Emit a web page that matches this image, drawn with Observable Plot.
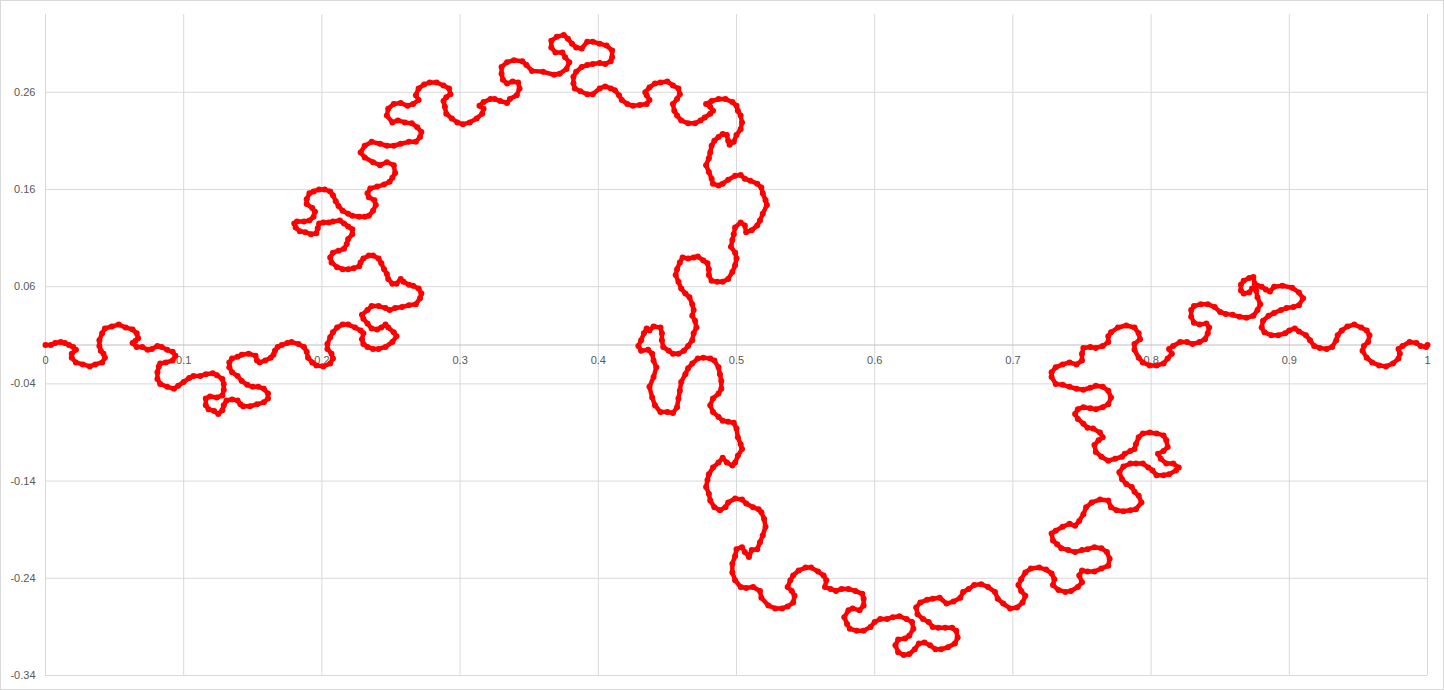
<!DOCTYPE html>
<html><head><meta charset="utf-8">
<script src="https://cdn.jsdelivr.net/npm/d3@7"></script>
<script src="https://cdn.jsdelivr.net/npm/@observablehq/plot@0.6"></script>
<style>
html,body{margin:0;padding:0;background:#fff;}
#wrap{position:relative;width:1444px;height:690px;overflow:hidden;}
#frame{position:absolute;left:0;top:0;width:1444px;height:690px;box-sizing:border-box;border:1px solid #d9d9d9;pointer-events:none;}
</style></head><body>
<div id="wrap"><div id="chart"></div><div id="frame"></div></div>
<script>
const xs = [
0,0.004,0.007,0.011,0.014,0.017,0.020,0.022,0.019,0.019,
0.022,0.027,0.032,0.036,0.041,0.043,0.042,0.040,0.039,0.039,
0.041,0.043,0.048,0.053,0.058,0.063,0.066,0.067,0.065,0.063,
0.066,0.070,0.074,0.077,0.081,0.084,0.088,0.092,0.094,0.092,
0.087,0.083,0.082,0.081,0.081,0.083,0.088,0.093,0.096,0.100,
0.104,0.107,0.112,0.116,0.121,0.124,0.128,0.129,0.129,0.128,
0.124,0.119,0.116,0.116,0.118,0.122,0.125,0.128,0.129,0.131,
0.135,0.139,0.141,0.143,0.148,0.153,0.158,0.161,0.161,0.158,
0.154,0.150,0.146,0.142,0.139,0.135,0.133,0.133,0.135,0.139,
0.142,0.147,0.152,0.153,0.155,0.159,0.163,0.165,0.166,0.168,
0.171,0.175,
0.178,0.183,0.187,0.189,0.190,0.193,0.196,0.201,0.206,0.208,
0.207,0.204,0.204,0.206,0.208,0.211,0.215,0.219,0.224,0.228,
0.230,0.229,0.230,0.233,0.237,0.241,0.246,0.251,0.254,0.252,
0.248,0.246,0.243,0.240,0.236,0.233,0.230,0.229,0.233,0.236,
0.241,0.246,0.249,0.253,0.258,0.263,0.268,0.271,0.272,0.270,
0.266,0.263,0.259,0.257,0.254,0.251,0.248,0.247,0.245,0.243,
0.241,0.237,0.234,0.230,0.228,0.227,0.223,0.219,0.215,0.211,
0.207,0.206,0.208,0.212,0.216,0.218,0.219,0.222,0.222,0.219,
0.216,0.213,0.208,0.205,0.201,0.198,0.197,0.196,0.192,0.188,
0.184,0.181,0.180,0.182,0.187,0.191,0.194,0.195,0.193,0.189,
0.189,0.191,0.194,0.198,0.202,0.206,0.208,0.210,0.212,0.215,
0.219,0.222,0.227,0.231,0.234,0.237,0.239,0.238,0.234,0.233,
0.235,0.240,0.245,0.249,0.251,0.253,
0.252,0.247,0.242,0.237,0.231,0.228,0.231,0.236,0.242,0.247,
0.252,0.257,0.263,0.268,0.271,0.272,0.269,0.265,0.260,0.255,
0.251,0.247,0.248,0.252,0.257,0.262,0.266,0.270,0.268,0.270,
0.274,0.278,0.283,0.288,0.292,0.293,0.290,0.288,0.289,0.290,
0.294,0.298,0.302,0.307,0.312,0.316,0.317,0.314,0.317,0.322,
0.325,0.329,0.334,0.336,0.341,0.343,0.342,0.338,0.334,0.331,
0.330,0.330,0.334,0.339,0.345,0.348,0.352,
0.360,0.368,0.372,0.377,0.379,0.376,0.374,0.369,0.366,0.366,
0.370,0.375,0.378,0.381,0.384,0.388,0.392,0.396,0.401,0.406,
0.410,0.410,0.409,0.405,0.401,0.396,0.392,0.388,0.384,0.382,
0.382,0.383,0.387,0.392,0.396,0.401,0.405,0.409,0.412,0.415,
0.417,0.421,0.425,0.430,0.435,0.437,0.435,0.434,0.437,0.441,
0.445,0.450,0.454,0.458,0.459,0.457,0.454,0.455,0.457,0.460,
0.465,0.470,0.474,0.477,0.481,0.483,0.481,0.478,0.482,0.487,
0.492,0.497,0.500,0.501,0.503,0.504,0.503,0.500,0.498,0.495,
0.494,0.493,0.490,0.487,0.484,0.482,0.481,0.480,0.478,0.480,
0.482,0.483,0.487,0.490,0.494,0.499,0.503,0.506,0.510,0.515,
0.518,0.519,0.521,0.522,
0.519,0.517,0.515,0.511,0.507,0.506,0.503,0.499,0.498,0.497,
0.496,0.499,0.500,0.499,0.497,0.494,0.490,0.486,0.482,0.480,
0.480,0.479,0.476,0.472,0.469,0.465,0.461,0.459,0.457,0.456,
0.458,0.460,0.463,0.466,0.468,0.469,0.468,0.470,0.471,0.469,
0.468,0.465,0.462,0.458,0.454,0.451,0.447,0.446,0.446,0.445,
0.440,0.437,0.435,0.433,0.431,0.429,0.431,0.436,0.439,0.440,
0.442,
0.440,0.437,0.439,0.441,0.445,0.450,0.454,0.457,0.458,0.459,
0.460,0.463,0.465,0.468,0.472,0.476,0.481,0.484,0.487,0.488,
0.489,0.489,0.487,0.483,0.481,0.483,0.487,0.490,0.494,0.498,
0.500,0.501,0.503,0.504,0.501,0.499,0.497,0.493,0.490,0.487,
0.483,0.480,0.479,0.478,0.480,0.481,0.484,0.488,0.492,0.494,
0.499,0.504,0.507,0.512,0.516,0.518,0.520,0.521,
0.519,0.517,0.515,0.511,0.509,0.506,0.504,0.500,0.499,0.497,
0.497,0.499,0.503,0.507,0.512,0.517,0.518,0.523,0.528,0.533,
0.537,0.541,0.542,0.540,0.537,0.539,0.541,0.545,0.550,0.554,
0.559,0.563,0.565,0.564,0.568,0.572,0.576,0.581,0.586,0.591,
0.592,0.592,0.589,0.584,0.581,0.578,0.580,0.582,0.587,0.592,
0.597,0.600,0.604,0.609,0.613,0.618,0.623,0.627,0.628,0.625,
0.622,0.617,0.615,0.617,0.621,0.625,0.629,0.632,
0.636,0.640,0.644,0.648,0.653,0.658,0.660,0.659,0.656,0.651,
0.646,0.642,0.639,0.635,0.631,0.630,0.633,0.638,0.642,0.647,
0.652,0.657,0.662,0.664,0.668,0.672,0.677,0.682,0.687,0.689,
0.693,0.698,0.703,0.707,0.709,0.706,0.704,0.706,0.709,0.713,
0.719,0.724,0.728,0.730,0.729,0.733,0.738,0.742,0.747,0.750,
0.748,0.750,0.754,0.759,0.764,0.769,0.770,0.768,0.764,0.759,
0.754,0.750,0.745,0.740,0.735,0.732,0.729,
0.728,0.731,0.736,0.741,0.745,0.748,0.751,0.753,0.757,0.763,
0.769,0.771,0.775,0.780,0.785,0.789,0.793,0.791,0.788,0.786,
0.782,0.779,0.777,0.780,0.785,0.789,0.794,0.798,0.801,0.804,
0.809,0.813,0.818,0.820,0.816,0.811,0.807,0.805,0.809,0.812,
0.811,0.809,0.804,0.799,0.794,0.791,0.789,0.788,0.785,0.781,
0.779,0.774,0.769,0.764,0.760,0.759,0.762,0.765,0.763,0.758,
0.754,0.751,0.747,0.745,0.747,0.751,0.756,0.760,0.765,0.769,
0.771,0.769,0.765,0.760,0.756,0.751,0.746,0.741,0.736,0.731,
0.728,0.728,0.731,0.736,0.741,0.746,0.750,0.750,0.751,0.756,
0.760,0.765,0.769,0.769,0.771,0.776,0.782,0.788,0.791,0.792,
0.788,0.788,0.791,0.794,0.799,0.804,0.809,0.812,0.815,0.813,
0.816,0.821,0.826,0.830,0.835,0.839,0.841,0.842,0.840,0.835,
0.831,0.829,0.829,0.831,0.836,0.841,0.846,0.850,0.854,0.859,
0.864,0.869,0.874,0.877,0.879,0.877,0.876,0.875,0.874,0.871,
0.867,0.865,0.865,0.867,0.871,0.873,0.877,0.880,0.883,0.886,
0.889,0.895,0.902,0.907,0.910,0.907,0.903,0.898,0.894,0.889,
0.885,0.881,0.880,0.882,0.887,0.892,0.897,0.900,0.904,0.907,
0.912,0.915,0.918,0.922,0.927,0.931,0.934,0.935,0.938,0.942,
0.947,0.952,0.956,0.958,0.957,0.954,0.953,0.956,0.960,0.965,
0.970,0.975,0.979,0.980,0.979,0.982,0.987,0.992,0.995,0.999,
1
];
const ys = [
0,0.000,0.002,0.003,0.002,0.000,-0.002,-0.005,-0.009,-0.013,
-0.018,-0.020,-0.022,-0.020,-0.018,-0.013,-0.009,-0.006,-0.001,0.005,
0.012,0.017,0.019,0.021,0.018,0.016,0.012,0.007,0.004,0.002,
-0.002,-0.002,-0.005,-0.004,-0.001,-0.002,-0.005,-0.007,-0.011,-0.016,
-0.018,-0.019,-0.022,-0.028,-0.035,-0.040,-0.043,-0.045,-0.042,-0.038,
-0.034,-0.032,-0.032,-0.030,-0.029,-0.031,-0.035,-0.040,-0.046,-0.052,
-0.054,-0.053,-0.055,-0.062,-0.066,-0.068,-0.071,-0.067,-0.062,-0.057,
-0.056,-0.057,-0.061,-0.063,-0.063,-0.061,-0.059,-0.055,-0.050,-0.045,
-0.043,-0.043,-0.041,-0.037,-0.032,-0.028,-0.023,-0.018,-0.014,-0.012,
-0.010,-0.009,-0.011,-0.016,-0.018,-0.016,-0.013,-0.010,-0.006,-0.002,
0.000,0.002,
0.003,0.001,-0.002,-0.007,-0.013,-0.018,-0.021,-0.022,-0.019,-0.014,
-0.009,-0.004,0.001,0.008,0.013,0.018,0.021,0.021,0.018,0.015,
0.012,0.006,0.001,-0.002,-0.004,-0.004,-0.002,0.003,0.009,0.013,
0.018,0.021,0.018,0.016,0.017,0.022,0.027,0.031,0.036,0.040,
0.040,0.038,0.036,0.038,0.039,0.041,0.042,0.048,0.053,0.058,
0.061,0.062,0.065,0.068,0.063,0.063,0.068,0.073,0.078,0.084,
0.089,0.092,0.092,0.089,0.085,0.081,0.079,0.078,0.078,0.080,
0.085,0.090,0.095,0.097,0.099,0.104,0.109,0.114,0.119,0.122,
0.125,0.128,0.127,0.126,0.126,0.125,0.120,0.115,0.114,0.116,
0.117,0.121,0.125,0.127,0.127,0.128,0.132,0.137,0.141,0.145,
0.150,0.156,0.158,0.160,0.160,0.158,0.154,0.148,0.143,0.138,
0.135,0.133,0.132,0.132,0.133,0.138,0.144,0.149,0.152,0.156,
0.161,0.163,0.165,0.168,0.172,0.177,
0.185,0.188,0.185,0.188,0.193,0.198,0.205,0.209,0.207,0.205,
0.205,0.207,0.209,0.209,0.214,0.219,0.224,0.228,0.229,0.231,
0.229,0.236,0.243,0.248,0.249,0.246,0.248,0.252,0.257,0.264,
0.268,0.270,0.270,0.267,0.264,0.258,0.255,0.251,0.245,0.238,
0.233,0.229,0.227,0.229,0.233,0.238,0.243,0.246,0.250,0.253,
0.253,0.251,0.249,0.253,0.257,0.264,0.270,0.271,0.269,0.273,
0.279,0.286,0.291,0.293,0.292,0.288,0.282,
0.281,0.278,0.279,0.284,0.291,0.296,0.301,0.301,0.306,0.313,
0.317,0.319,0.315,0.310,0.306,0.305,0.312,0.312,0.310,0.308,
0.303,0.296,0.292,0.289,0.290,0.289,0.288,0.286,0.281,0.276,
0.269,0.264,0.261,0.258,0.258,0.264,0.266,0.264,0.262,0.257,
0.252,0.248,0.246,0.247,0.248,0.252,0.257,0.260,0.265,0.269,
0.270,0.271,0.267,0.264,0.258,0.253,0.248,0.241,0.236,0.231,
0.228,0.228,0.231,0.234,0.238,0.241,0.245,0.248,0.251,0.253,
0.253,0.250,0.246,0.241,0.236,0.229,0.222,0.216,0.209,0.206,
0.210,0.216,0.217,0.214,0.210,0.205,0.198,0.192,0.185,0.178,
0.171,0.166,0.164,0.166,0.170,0.174,0.175,0.171,0.169,0.166,
0.162,0.156,0.149,0.144,
0.135,0.128,0.123,0.118,0.116,0.123,0.126,0.121,0.114,0.108,
0.101,0.095,0.089,0.082,0.075,0.068,0.065,0.065,0.066,0.072,
0.078,0.084,0.087,0.091,0.090,0.089,0.090,0.085,0.078,0.072,
0.065,0.058,0.053,0.049,0.042,0.036,0.030,0.025,0.018,0.012,
0.005,-0.001,-0.006,-0.009,-0.009,-0.006,-0.002,0.005,0.012,0.018,
0.019,0.015,0.017,0.012,0.005,-0.001,-0.006,-0.005,-0.009,-0.016,
-0.023,
-0.033,-0.043,-0.054,-0.062,-0.069,-0.069,-0.070,-0.064,-0.055,-0.047,
-0.038,-0.030,-0.024,-0.019,-0.014,-0.013,-0.014,-0.016,-0.023,-0.030,
-0.037,-0.045,-0.050,-0.055,-0.062,-0.069,-0.074,-0.078,-0.079,-0.080,
-0.086,-0.095,-0.102,-0.107,-0.114,-0.121,-0.124,-0.121,-0.116,-0.121,
-0.126,-0.133,-0.139,-0.146,-0.153,-0.160,-0.167,-0.170,-0.167,-0.162,
-0.158,-0.159,-0.163,-0.167,-0.169,-0.172,-0.179,-0.187,
-0.196,-0.203,-0.210,-0.211,-0.218,-0.213,-0.208,-0.210,-0.217,-0.225,
-0.234,-0.242,-0.249,-0.250,-0.249,-0.253,-0.260,-0.268,-0.271,-0.271,
-0.269,-0.265,-0.258,-0.253,-0.249,-0.242,-0.237,-0.232,-0.229,-0.229,
-0.233,-0.237,-0.242,-0.249,-0.251,-0.253,-0.251,-0.251,-0.253,-0.256,
-0.261,-0.268,-0.273,-0.271,-0.273,-0.280,-0.287,-0.292,-0.294,-0.294,
-0.290,-0.285,-0.282,-0.282,-0.280,-0.279,-0.282,-0.285,-0.292,-0.299,
-0.302,-0.303,-0.309,-0.316,-0.319,-0.318,-0.313,-0.307,
-0.306,-0.309,-0.313,-0.313,-0.311,-0.307,-0.301,-0.294,-0.291,-0.291,
-0.291,-0.290,-0.285,-0.282,-0.277,-0.270,-0.265,-0.262,-0.261,-0.260,
-0.266,-0.264,-0.260,-0.254,-0.251,-0.247,-0.246,-0.249,-0.254,-0.261,
-0.266,-0.271,-0.270,-0.265,-0.258,-0.253,-0.247,-0.241,-0.234,-0.230,
-0.229,-0.231,-0.235,-0.241,-0.247,-0.252,-0.254,-0.253,-0.249,-0.244,
-0.237,-0.232,-0.233,-0.233,-0.230,-0.227,-0.220,-0.213,-0.209,-0.208,
-0.210,-0.211,-0.213,-0.211,-0.209,-0.205,-0.201,
-0.194,-0.191,-0.187,-0.184,-0.186,-0.181,-0.174,-0.167,-0.162,-0.159,
-0.160,-0.167,-0.170,-0.171,-0.170,-0.169,-0.162,-0.155,-0.151,-0.146,
-0.143,-0.138,-0.131,-0.125,-0.122,-0.122,-0.122,-0.126,-0.129,-0.134,
-0.134,-0.133,-0.129,-0.126,-0.122,-0.122,-0.117,-0.112,-0.109,-0.105,
-0.098,-0.093,-0.091,-0.090,-0.091,-0.095,-0.102,-0.107,-0.109,-0.112,
-0.115,-0.117,-0.119,-0.115,-0.110,-0.103,-0.098,-0.095,-0.090,-0.086,
-0.085,-0.081,-0.076,-0.071,-0.066,-0.064,-0.065,-0.066,-0.064,-0.061,
-0.054,-0.047,-0.043,-0.042,-0.044,-0.046,-0.045,-0.043,-0.041,-0.040,
-0.033,-0.028,-0.023,-0.020,-0.018,-0.020,-0.016,-0.009,-0.003,-0.002,
-0.003,-0.001,0.003,0.009,0.013,0.018,0.020,0.018,0.012,0.006,
0.001,-0.005,-0.013,-0.018,-0.021,-0.021,-0.019,-0.014,-0.009,-0.004,
-0.001,0.003,0.003,0.001,0.003,0.006,0.012,0.018,0.022,0.021,
0.023,0.029,0.036,0.040,0.042,0.042,0.039,0.034,0.032,0.031,
0.029,0.028,0.030,0.036,0.042,0.049,0.056,0.063,0.070,0.069,
0.066,0.062,0.056,0.053,0.054,0.058,0.061,0.060,0.057,0.055,
0.060,0.061,0.059,0.054,0.048,0.041,0.039,0.038,0.036,0.033,
0.030,0.025,0.018,0.013,0.010,0.010,0.012,0.015,0.017,0.014,
0.010,0.005,-0.001,-0.003,-0.004,-0.002,0.005,0.010,0.015,0.019,
0.021,0.018,0.015,0.010,0.003,-0.001,-0.006,-0.013,-0.018,-0.021,
-0.022,-0.019,-0.014,-0.009,-0.004,-0.001,0.003,0.002,-0.001,-0.002,
0
];
const xTicks = [0,0.1,0.2,0.3,0.4,0.5,0.6,0.7,0.8,0.9,1];
const xTickLabels = ["0","0.1","0.2","0.3","0.4","0.5","0.6","0.7","0.8","0.9","1"];
const yTicks = [-0.34,-0.24,-0.14,-0.04,0.06,0.16,0.26];
const yTickLabels = ["-0.34","-0.24","-0.14","-0.04","0.06","0.16","0.26"];

const n = Math.min(xs.length, ys.length);
const points = [];
for (let i = 0; i < n; i++) points.push({x: xs[i], y: ys[i]});

const chart = Plot.plot({
  width: 1444, height: 690,
  marginLeft: 45, marginRight: 17, marginTop: 14, marginBottom: 15,
  style: {fontFamily: "'Liberation Sans', Arial, sans-serif", fontSize: "11px", color: "#595959", background: "#ffffff"},
  x: {domain: [0, 1], axis: null},
  y: {domain: [-0.34, 0.34], axis: null},
  marks: [
    Plot.gridX(xTicks, {stroke: "#d9d9d9", strokeOpacity: 1}),
    Plot.gridY(yTicks, {stroke: "#d9d9d9", strokeOpacity: 1}),
    Plot.ruleY([0], {stroke: "#bfbfbf", strokeWidth: 1}),
    Plot.axisY(yTicks, {label: null, tickSize: 0, tickPadding: 10, tickFormat: d => yTickLabels[yTicks.indexOf(d)], fill: "#595959", fontSize: 11}),
    Plot.text(xTicks, {x: d => d, y: () => 0, dy: 15, text: (d, i) => xTickLabels[i], fill: "#595959", fontSize: 11}),
    Plot.line(points, {x: "x", y: "y", stroke: "#ff0000", strokeWidth: 4.5, strokeLinejoin: "round", strokeLinecap: "round"}),
    Plot.dot(points, {x: "x", y: "y", r: 3, fill: "#ff0000", stroke: "none"})
  ]
});
document.getElementById("chart").appendChild(chart);
</script>
</body></html>
